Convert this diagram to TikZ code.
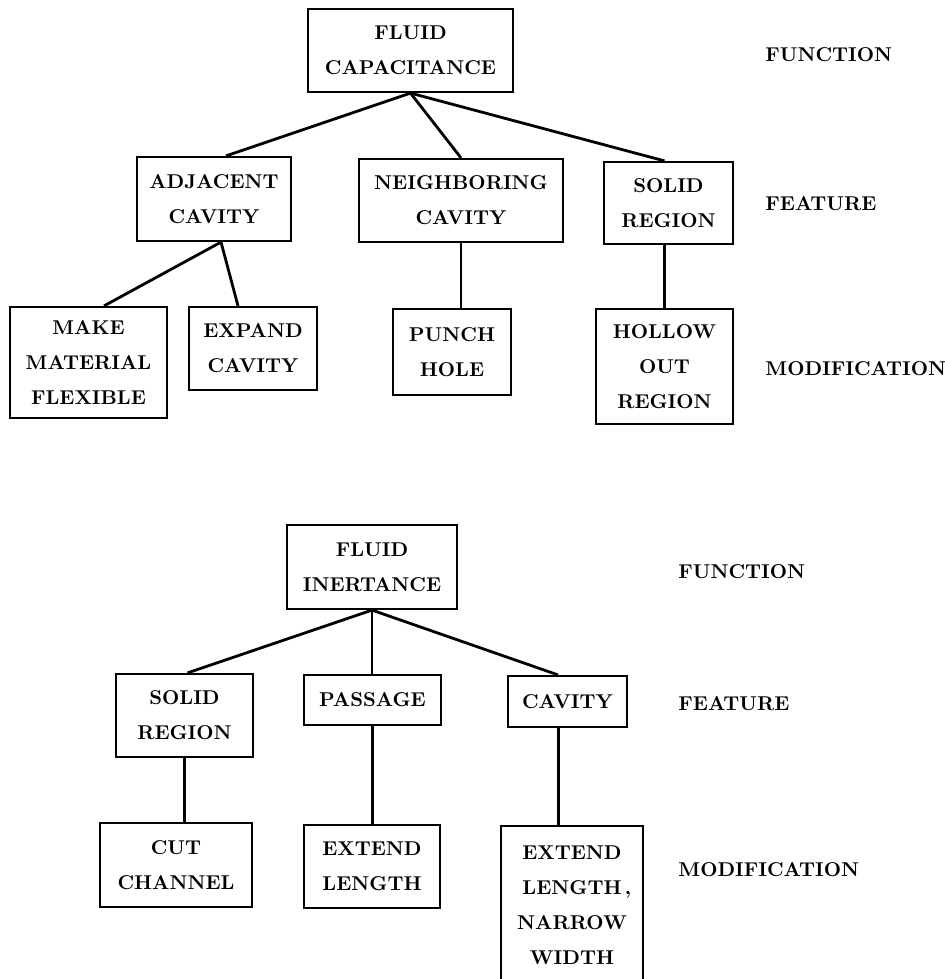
\documentclass[tikz,border=0pt]{standalone}
\usetikzlibrary{calc}
\newcommand{\dgfont}{\fontsize{10}{17.5}\bfseries\selectfont}
\begin{document}
\begin{tikzpicture}[x=0.5pt,y=-0.5pt,
  box/.style={draw, line width=1.1pt, inner sep=0pt, align=center, font=\dgfont},
  lbl/.style={anchor=west, inner sep=0pt, font=\dgfont},
  link/.style={line width=1.4pt},
  vlink/.style={line width=1.05pt}]
\useasboundingbox (0,0) rectangle (944,979);
\clip (0,0) rectangle (944,979);
% ---------- upper tree ----------
\node[box, minimum width=102.5pt, minimum height=41.5pt] (fc) at (410.5,50.5) {FLUID\\CAPACITANCE};
\node[box, minimum width=77pt, minimum height=42pt] (adj) at (214,199) {ADJACENT\\CAVITY};
\node[box, minimum width=102pt, minimum height=41.5pt] (nei) at (461,200.5) {NEIGHBORING\\CAVITY};
\node[box, minimum width=64.5pt, minimum height=41pt] (so1) at (668.5,203) {SOLID\\REGION};
\node[box, minimum width=78.5pt, minimum height=55.5pt] (mak) at (88.5,362.5) {MAKE\\MATERIAL\\FLEXIBLE};
\node[box, minimum width=64pt, minimum height=41.5pt] (exp) at (253,348.5) {EXPAND\\CAVITY};
\node[box, minimum width=59pt, minimum height=43pt] (pun) at (452,352) {PUNCH\\HOLE};
\node[box, minimum width=68.5pt, minimum height=57.5pt] (hol) at (664.5,366.5) {HOLLOW\\OUT\\REGION};
\node[lbl] (fun1) at (765,55) {FUNCTION};
\node[lbl] (fea1) at (765,204) {FEATURE};
\node[lbl] (mod1) at (765,369) {MODIFICATION};
\draw[link] (fc.south) -- ($(adj.north)+(12,0)$);
\draw[link] (fc.south) -- (nei.north);
\draw[link] (fc.south) -- ($(so1.north)+(-4,0)$);
\draw[link] ($(adj.south)+(7,0)$) -- ($(mak.north)+(15.5,0)$);
\draw[link] ($(adj.south)+(7,0)$) -- ($(exp.north)+(-15,0)$);
\draw[vlink] (nei.south) -- (nei.south |- pun.north);
\draw[vlink] (hol.north |- so1.south) -- (hol.north);
% ---------- lower tree ----------
\node[box, minimum width=85pt, minimum height=42pt] (fi) at (372,567) {FLUID\\INERTANCE};
\node[box, minimum width=68.5pt, minimum height=41.5pt] (so2) at (184.5,715.5) {SOLID\\REGION};
\node[box, minimum width=68.5pt, minimum height=25pt] (pas) at (372.5,700) {PASSAGE};
\node[box, minimum width=59.5pt, minimum height=25.5pt] (cav) at (567.5,701.5) {CAVITY};
\node[box, minimum width=76pt, minimum height=42pt] (cut) at (176,865) {CUT\\CHANNEL};
\node[box, minimum width=68pt, minimum height=41.5pt] (ext) at (372,866.5) {EXTEND\\LENGTH};
\node[box, minimum width=71pt, minimum height=79.5pt] (ex2) at (572,905.5) {EXTEND\\LENGTH\rlap{\,,}\\NARROW\\WIDTH};
\node[lbl] (fun2) at (678,572) {FUNCTION};
\node[lbl] (fea2) at (678,704) {FEATURE};
\node[lbl] (mod2) at (678,870) {MODIFICATION};
\draw[link] (fi.south) -- ($(so2.north)+(3,0)$);
\draw[vlink] (fi.south) -- (fi.south |- pas.north);
\draw[link] (fi.south) -- ($(cav.north)+(-9.5,0)$);
\draw[vlink] (so2.south) -- (so2.south |- cut.north);
\draw[vlink] (pas.south) -- (pas.south |- ext.north);
\draw[vlink] ($(cav.south)+(-9,0)$) coordinate (cv) -- (cv |- ex2.north);
\end{tikzpicture}
\end{document}
